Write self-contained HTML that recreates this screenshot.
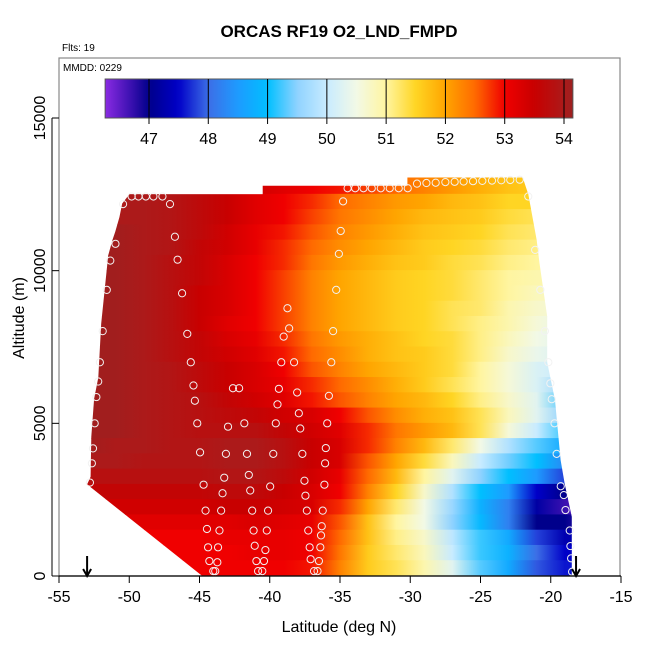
<!DOCTYPE html>
<html><head><meta charset="utf-8"><style>
html,body{margin:0;padding:0;background:#fff}
svg{display:block;font-family:"Liberation Sans",Arial,sans-serif}
</style></head><body>
<svg id="chart" width="650" height="650" viewBox="0 0 650 650" xmlns="http://www.w3.org/2000/svg">
<defs id="defs"></defs>
<rect x="0" y="0" width="650" height="650" fill="#fff"/>
<text x="339" y="37" text-anchor="middle" font-size="17" font-weight="bold">ORCAS RF19 O2_LND_FMPD</text>
<text x="62" y="51" font-size="10">Flts: 19</text>
<g id="heat"></g>
<g id="circles"></g>
<rect x="59" y="58" width="561" height="518" fill="none" stroke="#888" stroke-width="1.2"/>
<text x="63" y="71" font-size="10">MMDD: 0229</text>
<g id="cbar"></g>
<g id="axes"></g>
<text x="339" y="632" text-anchor="middle" font-size="16">Latitude (deg N)</text>
<text x="0" y="0" transform="translate(24,318) rotate(-90)" text-anchor="middle" font-size="16">Altitude (m)</text>
</svg>
<script>
const lats = [-53,-51,-49,-47,-45,-43,-41,-39,-37,-35,-33,-31,-29,-27,-25,-23,-21,-19,-18];
const alts = [12750,12250,11750,11250,10750,10250,9750,9250,8750,8250,7750,7250,6750,6250,5750,5250,4750,4250,3750,3250,2750,2250,1750,1250,750,250];
const vals = [
[54.0,54.0,53.9,53.8,53.7,53.6,53.4,53.2,53.0,52.9,52.7,52.5,52.3,52.1,51.9,51.7,51.6,51.6,51.6],
[54.0,54.0,54.0,53.9,53.7,53.5,53.2,53.0,52.8,52.5,52.3,52.1,52.0,51.8,51.7,51.5,51.5,51.5,51.5],
[54.1,54.0,54.0,53.9,53.7,53.5,53.2,53.0,52.7,52.4,52.2,52.0,51.8,51.7,51.6,51.4,51.3,51.3,51.3],
[54.1,54.1,54.0,53.9,53.7,53.4,53.1,52.9,52.6,52.3,52.1,51.9,51.7,51.6,51.5,51.3,51.2,51.2,51.2],
[54.1,54.1,54.0,53.9,53.6,53.4,53.1,52.8,52.5,52.2,52.0,51.8,51.6,51.5,51.4,51.2,51.1,51.1,51.1],
[54.1,54.1,54.0,53.8,53.6,53.3,53.0,52.8,52.4,52.1,51.9,51.7,51.6,51.4,51.3,51.1,51.0,51.0,51.0],
[54.1,54.1,54.0,53.8,53.6,53.3,53.0,52.7,52.3,52.0,51.8,51.6,51.5,51.4,51.2,51.0,50.9,50.9,50.9],
[54.1,54.1,54.0,53.8,53.5,53.3,53.0,52.7,52.3,52.0,51.8,51.6,51.5,51.4,51.2,51.0,50.8,50.8,50.8],
[54.1,54.1,54.0,53.8,53.5,53.3,53.0,52.7,52.3,52.0,51.8,51.6,51.5,51.3,51.2,50.9,50.7,50.6,50.6],
[54.1,54.1,54.0,53.8,53.5,53.2,53.0,52.7,52.3,52.0,51.8,51.6,51.5,51.3,51.1,50.9,50.6,50.4,50.4],
[54.1,54.1,54.0,53.8,53.6,53.3,53.1,52.8,52.4,52.1,51.9,51.7,51.5,51.4,51.1,50.8,50.5,50.3,50.3],
[54.1,54.1,54.0,53.8,53.6,53.4,53.2,52.9,52.5,52.2,51.9,51.7,51.6,51.4,51.1,50.7,50.4,50.2,50.2],
[54.1,54.1,54.0,53.9,53.7,53.5,53.3,53.0,52.6,52.3,52.0,51.8,51.6,51.4,51.0,50.6,50.2,50.0,50.0],
[54.1,54.1,54.0,53.9,53.7,53.5,53.3,53.1,52.8,52.5,52.2,51.9,51.6,51.3,51.0,50.6,50.2,49.6,49.6],
[54.1,54.1,54.0,53.9,53.8,53.6,53.4,53.2,52.9,52.6,52.3,52.0,51.8,51.5,51.1,50.7,50.3,49.3,49.3],
[54.1,54.1,54.0,53.9,53.8,53.7,53.6,53.4,53.3,53.0,52.6,52.2,51.9,51.7,51.3,50.8,50.3,49.5,49.5],
[54.1,54.1,54.0,53.9,53.8,53.8,53.8,53.6,53.4,53.2,52.8,52.4,52.1,51.8,51.3,50.6,50.0,49.2,49.2],
[54.1,54.0,54.0,53.9,53.9,54.0,54.0,53.8,53.5,53.3,52.8,52.3,51.8,51.2,50.5,49.8,49.3,48.7,48.7],
[54.0,54.0,53.9,53.9,53.9,54.0,54.0,53.8,53.5,53.3,52.6,52.0,51.4,50.8,50.0,49.4,49.0,48.3,48.3],
[53.8,53.8,53.8,53.8,53.8,53.9,53.9,53.7,53.4,53.1,52.5,51.8,51.0,50.3,49.5,49.0,48.5,47.8,47.8],
[53.6,53.6,53.6,53.6,53.6,53.7,53.7,53.5,53.3,53.0,52.3,51.5,50.7,49.8,49.0,48.5,47.5,47.0,46.8],
[53.4,53.4,53.4,53.4,53.4,53.5,53.5,53.4,53.3,52.8,52.0,51.2,50.5,49.6,48.8,48.2,47.2,46.7,46.6],
[53.2,53.2,53.2,53.2,53.2,53.2,53.3,53.2,53.1,52.6,51.7,51.0,50.5,49.5,48.9,48.2,47.0,47.0,46.8],
[53.0,53.0,53.0,53.0,53.0,53.1,53.1,53.1,53.0,52.5,51.7,51.1,50.7,49.9,49.2,48.7,47.8,47.3,47.3],
[53.0,53.0,53.0,53.0,53.0,53.0,53.1,53.1,53.0,52.4,51.6,51.2,50.8,50.0,49.2,48.8,48.0,47.5,47.5],
[53.0,53.0,53.0,53.0,53.0,53.0,53.0,53.0,52.9,52.3,51.6,51.3,50.9,50.3,49.3,48.7,47.9,47.6,47.6]
];
const boundLat = [-50,-40.5,-40.5,-30.2,-30.2,-22,-21.6,-21,-20.8,-20.25,-20.25,-19.7,-19.5,-19.3,-19,-18.5,-18.5,-44.8,-53,-52.75,-52.7,-52.5,-52.2,-52,-51.5,-51.2,-51,-50.7,-50.5];
const boundAlt = [12500,12500,12780,12780,13050,13050,12500,11000,10240,8500,7000,5760,4780,3800,3000,1940,0,0,3000,3250,4560,5800,6500,8270,10500,11000,11270,11750,12200];
const ptLat = [-50.44,-50.98,-51.35,-51.6,-51.89,-52.09,-52.21,-52.34,-52.46,-52.58,-52.66,-52.8,
-47.1,-46.75,-46.56,-46.24,-45.87,-45.62,-45.43,-45.33,-45.16,-44.96,-44.71,-44.57,-44.47,-44.39,-44.3,-44.02,-43.88,
-42.62,-42.18,-42.97,-41.81,-43.12,-41.62,-43.24,-41.49,-43.36,-41.39,-43.46,-41.25,-43.58,-41.15,-43.68,-41.07,-43.73,-40.95,-40.83,-40.53,-40.41,-40.31,-40.21,-40.12,-39.97,-39.75,-39.57,-39.45,-39.35,-39.18,-39.01,-38.62,-38.74,-38.27,-38.05,-37.93,-37.83,-37.68,-37.53,-37.46,-37.36,-37.26,-37.16,-37.09,-36.85,-36.6,-36.5,-36.4,-36.35,-36.3,-36.23,-36.11,-36.06,-36.01,-35.91,-35.79,-35.62,-35.49,-35.27,-35.08,-34.95,-34.78,
-21.6,-21.11,-20.74,-20.42,-20.17,-20.03,-19.93,-19.73,-19.58,-19.29,-19.07,-18.95,-18.65,-18.6,-18.55,-18.48,
-49.83,-49.34,-48.82,-48.28,-47.64,
-34.46,-33.92,-33.33,-32.74,-32.1,-31.46,-30.82,-30.18,
-29.52,-28.85,-28.19,-27.5,-26.84,-26.2,-25.53,-24.87,-24.18,-23.52,-22.88,-22.21];
const ptAlt = [12180,10880,10330,9370,8020,7000,6370,5860,5000,4180,3690,3060,
12180,11110,10360,9260,7930,7000,6240,5740,5000,4050,2990,2140,1540,940,490,160,160,
6150,6150,4890,5000,4000,4000,3220,3310,2710,2800,2140,2140,1490,1490,940,990,450,490,160,160,490,850,1490,2140,2930,4000,5000,5620,6130,7000,7840,8110,8770,7000,6010,5330,4830,4000,3120,2630,2140,1490,940,550,160,160,490,940,1330,1630,2140,2990,3690,4190,5000,5900,7000,8020,9370,10550,11300,12270,
12430,10680,9370,8020,7000,6310,5790,5000,4000,2940,2650,2160,1490,980,580,140,
12430,12430,12430,12430,12430,
12700,12700,12700,12700,12700,12700,12700,12700,
12850,12870,12880,12900,12910,12920,12930,12940,12950,12960,12970,12980];
const xTicks = [-55,-50,-45,-40,-35,-30,-25,-20,-15];
const yTicks = [0,5000,10000,15000];
const cbTicks = [47,48,49,50,51,52,53,54];
const arrowLats = [-53,-18.2];
const cbMin = 46.26, cbMax = 54.15;
const cmapV = [46.26,46.7,47.0,47.5,48.0,48.5,49.0,49.5,50.0,50.5,51.0,51.5,52.0,52.5,53.0,53.5,54.0,54.15];
const cmapC = ["#8a2be2","#3a10b0","#00008b","#0000c8","#3c6ee6","#1e9bff","#00bfff","#8fd2ff","#c8ebff","#f2f9e6","#fff5a0","#ffd523","#ffa500","#ff6a00","#f00000","#c80000","#ac1a1a","#9c2020"];

const NS = "http://www.w3.org/2000/svg";
const X = lat => 59 + (lat + 55) * (562 / 40);
const Y = alt => 576 - alt * (458 / 15000);
const CB = v => 149 + (v - 47) * (415 / 7);
function hex(c){return [parseInt(c.slice(1,3),16),parseInt(c.slice(3,5),16),parseInt(c.slice(5,7),16)];}
function color(v){
  if (v <= cmapV[0]) return cmapC[0];
  for (let i = 1; i < cmapV.length; i++) {
    if (v <= cmapV[i]) {
      const t = (v - cmapV[i-1]) / (cmapV[i] - cmapV[i-1]);
      const a = hex(cmapC[i-1]), b = hex(cmapC[i]);
      return "rgb(" + a.map((q,k)=>Math.round(q + (b[k]-q)*t)).join(",") + ")";
    }
  }
  return cmapC[cmapC.length-1];
}
function mk(tag, attrs, parent){const e=document.createElementNS(NS,tag);for(const k in attrs)e.setAttribute(k,attrs[k]);parent.appendChild(e);return e;}
const defs = document.getElementById("defs");
const heat = document.getElementById("heat");

// clip region
const cp = mk("clipPath",{id:"dataclip"},defs);
mk("polygon",{points: boundLat.map((l,i)=>X(l).toFixed(1)+","+Y(boundAlt[i]).toFixed(1)).join(" ")},cp);
const hg = mk("g",{"clip-path":"url(#dataclip)"},heat);
alts.forEach((a, r) => {
  const gid = "row" + r;
  const lg = mk("linearGradient",{id:gid,gradientUnits:"userSpaceOnUse",x1:X(lats[0]),y1:0,x2:X(lats[lats.length-1]),y2:0},defs);
  lats.forEach((l, c) => {
    mk("stop",{offset:((l-lats[0])/(lats[lats.length-1]-lats[0])).toFixed(4),"stop-color":color(vals[r][c])},lg);
  });
  const top = r === 0 ? Y(a + 400) : Y(a + 250) - 0.5;
  const bot = Y(a - 250);
  const rect = mk("rect",{x:X(lats[0]),y:top,width:X(lats[lats.length-1])-X(lats[0]),height:bot-top,fill:"url(#"+gid+")"},hg);
  
  
});

// sample circles
const cg = document.getElementById("circles");
ptLat.forEach((l, i) => {
  const c = mk("circle",{cx:X(l),cy:Y(ptAlt[i]),r:3.6,fill:"none",stroke:"#f2f2f2","stroke-width":1},cg);
  
  
});

// colorbar
const cbar = document.getElementById("cbar");
const cbg = mk("linearGradient",{id:"cbgrad",gradientUnits:"userSpaceOnUse",x1:CB(cbMin),y1:0,x2:CB(cbMax),y2:0},defs);
for (let k = 0; k <= 80; k++) {
  const v = cbMin + (cbMax - cbMin) * k / 80;
  mk("stop",{offset:(k/80).toFixed(4),"stop-color":color(v)},cbg);
}
const cbr = mk("rect",{x:CB(cbMin),y:79,width:CB(cbMax)-CB(cbMin),height:39,fill:"url(#cbgrad)",stroke:"#555","stroke-width":1},cbar);


cbTicks.forEach(t => {
  const ln = mk("line",{x1:CB(t),x2:CB(t),y1:79,y2:124,stroke:"#000","stroke-width":1},cbar);
  
  
  const tx = mk("text",{x:CB(t),y:144,"text-anchor":"middle","font-size":16},cbar);
  tx.textContent = t;
  
  
});

// axes
const ax = document.getElementById("axes");
const xl = mk("line",{x1:X(-55),x2:X(-15),y1:576,y2:576,stroke:"#000","stroke-width":1.2},ax);


xTicks.forEach(t => {
  const ln = mk("line",{x1:X(t),x2:X(t),y1:576,y2:583,stroke:"#000"},ax);
  
  
  const tx = mk("text",{x:X(t),y:602,"text-anchor":"middle","font-size":16},ax);
  tx.textContent = t;
  
  
});
const yl = mk("line",{x1:52,x2:52,y1:Y(0),y2:Y(15000),stroke:"#000","stroke-width":1},ax);


yTicks.forEach(t => {
  const ln = mk("line",{x1:52,x2:59,y1:Y(t),y2:Y(t),stroke:"#000"},ax);
  
  
  const tx = mk("text",{x:0,y:0,transform:"translate(45,"+Y(t)+") rotate(-90)","text-anchor":"middle","font-size":16},ax);
  tx.textContent = t;
  
  
});
arrowLats.forEach(l => {
  const g = mk("g",{stroke:"#000","stroke-width":2,fill:"none"},ax);
  
  
  mk("line",{x1:X(l),x2:X(l),y1:556,y2:576},g);
  mk("polyline",{points:(X(l)-4)+",569 "+X(l)+",576 "+(X(l)+4)+",569"},g);
});
</script>
</body></html>
